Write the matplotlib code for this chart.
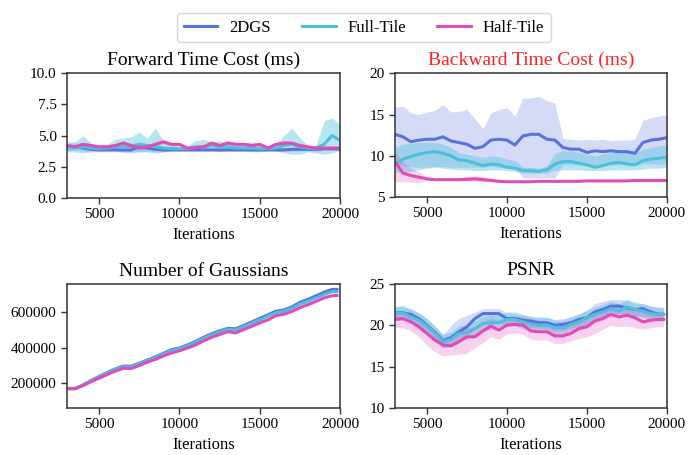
import numpy as np
import matplotlib
matplotlib.use("Agg")
import matplotlib.pyplot as plt

plt.rcParams["font.family"] = ["Liberation Serif", "DejaVu Serif"]

methods = ["2DGS", "Full-Tile", "Half-Tile"]
colors = ["#5872e2", "#4dbfd9", "#e04bb8"]
band_alpha = [0.25, 0.4, 0.25]

# time-cost panels, sampled every 500 iterations
iters_t = np.arange(3000, 20001, 500)

fwd_2dgs = [4.1, 4.1, 4.0, 3.9, 3.85, 3.85, 3.85, 3.85, 3.85, 4.1, 4.0, 3.9, 3.85, 3.85, 3.85, 3.85, 3.85, 3.85,
            3.85, 3.85, 3.85, 3.85, 3.85, 3.85, 3.85, 3.85, 3.85, 3.85, 3.9, 3.9, 3.9, 3.9, 3.95, 3.95, 3.95]
fwd_2dgs_lo = [3.8, 3.8, 3.75, 3.7, 3.7, 3.7, 3.7, 3.65, 3.6, 3.7, 3.7, 3.7, 3.7, 3.75, 3.75, 3.75, 3.75, 3.75,
               3.75, 3.75, 3.75, 3.75, 3.75, 3.75, 3.75, 3.75, 3.75, 3.75, 3.75, 3.75, 3.75, 3.75, 3.8, 3.8, 3.8]
fwd_2dgs_hi = [4.4, 4.4, 4.3, 4.2, 4.0, 4.0, 4.0, 4.2, 4.4, 4.5, 4.3, 4.1, 4.0, 4.0, 4.0, 4.0, 4.0, 4.0,
               4.0, 4.0, 4.0, 4.0, 4.0, 4.0, 4.0, 4.0, 4.0, 4.0, 4.05, 4.05, 4.05, 4.05, 4.1, 4.1, 4.1]

fwd_full = [4.0, 4.0, 4.1, 4.0, 3.95, 4.0, 4.1, 4.1, 4.1, 4.3, 4.2, 4.1, 4.0, 3.95, 3.95, 3.95, 4.1, 4.1,
            4.2, 4.1, 4.1, 4.0, 4.0, 4.0, 3.95, 3.95, 4.0, 4.2, 4.3, 4.1, 4.0, 4.0, 4.3, 5.0, 4.6]
fwd_full_lo = [3.7, 3.7, 3.6, 3.7, 3.8, 3.8, 3.8, 3.7, 3.7, 3.7, 3.7, 3.6, 3.7, 3.8, 3.8, 3.8, 3.8, 3.8,
               3.8, 3.7, 3.8, 3.8, 3.8, 3.7, 3.7, 3.8, 3.8, 3.6, 3.5, 3.5, 3.7, 3.6, 3.5, 3.6, 3.8]
fwd_full_hi = [4.5, 4.5, 5.0, 4.4, 4.2, 4.3, 4.7, 4.8, 4.9, 5.3, 4.8, 5.6, 4.6, 4.3, 4.1, 4.2, 4.6, 4.7,
               4.5, 4.6, 4.4, 4.3, 4.4, 4.5, 4.2, 4.2, 4.3, 5.0, 5.6, 4.8, 4.2, 4.2, 6.2, 6.4, 5.9]

fwd_half = [4.2, 4.1, 4.3, 4.2, 4.1, 4.1, 4.2, 4.4, 4.2, 4.0, 4.1, 4.3, 4.5, 4.3, 4.3, 4.0, 4.0, 4.1,
            4.4, 4.2, 4.4, 4.3, 4.3, 4.2, 4.3, 4.0, 4.3, 4.4, 4.4, 4.2, 4.1, 4.0, 4.0, 4.0, 4.0]
fwd_half_lo = [v - 0.15 for v in fwd_half]
fwd_half_hi = [v + 0.15 for v in fwd_half]

bwd_2dgs = [12.6, 12.3, 11.7, 11.9, 12.0, 12.0, 12.3, 11.8, 11.6, 11.4, 10.9, 11.1, 11.9, 12.0, 11.9, 11.3, 12.4, 12.6,
            12.6, 12.0, 11.9, 11.0, 10.8, 10.8, 10.4, 10.6, 10.5, 10.6, 10.5, 10.5, 10.3, 11.6, 11.9, 12.0, 12.2]
bwd_2dgs_lo = [9.0, 8.8, 8.7, 8.6, 8.6, 8.7, 8.7, 8.6, 8.6, 8.6, 8.6, 8.6, 8.7, 8.6, 8.6, 8.5, 7.3, 7.3,
               7.3, 7.3, 7.3, 8.9, 8.9, 8.9, 8.8, 8.8, 8.9, 8.9, 8.9, 8.9, 8.9, 9.0, 9.0, 9.0, 9.0]
bwd_2dgs_hi = [15.9, 16.0, 15.2, 15.0, 15.3, 15.5, 16.2, 15.3, 15.4, 15.6, 14.5, 13.3, 15.2, 15.6, 15.8, 14.8, 17.0, 17.0,
               17.2, 16.7, 16.4, 12.1, 12.0, 11.9, 12.0, 11.9, 12.0, 11.8, 11.9, 11.9, 12.0, 14.3, 14.6, 14.8, 15.0]

bwd_full = [8.9, 9.6, 9.9, 10.2, 10.4, 10.5, 10.3, 10.0, 9.5, 9.4, 9.1, 8.8, 9.0, 8.9, 8.6, 8.5, 8.2, 8.2,
            8.1, 8.3, 9.0, 9.3, 9.3, 9.1, 8.9, 8.6, 8.8, 9.1, 9.2, 9.0, 8.9, 9.4, 9.6, 9.7, 9.8]
bwd_full_lo = [8.0, 8.0, 8.1, 8.3, 8.5, 8.6, 8.5, 8.4, 8.3, 8.3, 8.2, 8.2, 8.3, 8.3, 8.2, 8.1, 7.9, 7.9,
               7.9, 7.9, 8.2, 8.3, 8.3, 8.3, 8.2, 8.2, 8.2, 8.3, 8.3, 8.3, 8.3, 8.4, 8.5, 8.5, 8.6]
bwd_full_hi = [11.0, 11.4, 11.5, 11.6, 11.6, 11.6, 11.4, 11.0, 10.4, 10.2, 10.0, 9.8, 10.0, 9.9, 9.6, 9.4, 8.6, 8.6,
               8.5, 8.8, 10.3, 10.6, 10.6, 10.4, 10.2, 10.0, 10.2, 10.4, 10.5, 10.4, 10.3, 10.8, 11.0, 11.2, 11.3]

bwd_half = [9.3, 7.9, 7.6, 7.4, 7.2, 7.1, 7.1, 7.1, 7.1, 7.15, 7.2, 7.1, 7.0, 6.9, 6.85, 6.85, 6.85, 6.85,
            6.9, 6.9, 6.9, 6.9, 6.9, 6.9, 6.95, 6.95, 6.95, 6.95, 6.95, 6.95, 7.0, 7.0, 7.0, 7.0, 7.0]
bwd_half_lo = [6.8, 6.9, 6.8, 6.7, 7.0, 7.0, 7.0, 7.0, 7.0, 6.9, 6.9, 6.9, 6.9, 6.8, 6.8, 6.8, 6.8, 6.8,
               6.85, 6.85, 6.85, 6.85, 6.85, 6.85, 6.9, 6.9, 6.9, 6.9, 6.9, 6.9, 6.95, 6.95, 6.95, 6.95, 6.95]
bwd_half_hi = [10.5, 9.3, 8.5, 8.1, 7.4, 7.2, 7.2, 7.2, 7.2, 7.5, 7.6, 7.5, 7.4, 7.0, 6.9, 6.9, 6.9, 6.9,
               6.95, 6.95, 6.95, 6.95, 6.95, 6.95, 7.0, 7.0, 7.0, 7.0, 7.0, 7.0, 7.05, 7.05, 7.05, 7.05, 7.05]

# gaussian count and psnr panels
iters_e = [3000, 3500, 4000, 4500, 5000, 5500, 6000, 6500, 7000, 7500, 8000, 8500, 9000, 9500, 10000, 10500, 11000,
           11500, 12000, 12500, 13000, 13500, 14000, 14500, 15000, 15500, 16000, 16500, 17000, 17500, 18000, 18500,
           19000, 19500, 19800]

gs_2dgs = [170000, 170000, 190000, 215000, 238000, 260000, 280000, 296000, 296000, 312000, 330000, 348000, 368000,
           388000, 398000, 415000, 435000, 458000, 478000, 495000, 508000, 506000, 525000, 545000, 565000, 585000,
           605000, 612000, 630000, 655000, 672000, 692000, 712000, 728000, 728000]
gs_full = [170000, 170000, 189000, 213000, 235000, 257000, 277000, 292000, 292000, 308000, 326000, 344000, 363000,
           383000, 393000, 410000, 430000, 452000, 472000, 489000, 502000, 500000, 518000, 538000, 557000, 577000,
           597000, 604000, 621000, 645000, 661000, 680000, 699000, 715000, 715000]
gs_half = [168000, 168000, 186000, 208000, 228000, 248000, 268000, 283000, 283000, 299000, 318000, 334000, 353000,
           370000, 382000, 398000, 415000, 438000, 458000, 474000, 490000, 483000, 502000, 520000, 540000, 556000,
           580000, 588000, 604000, 625000, 642000, 660000, 680000, 692000, 694000]

psnr_2dgs = [21.5, 21.5, 21.3, 20.8, 20.0, 19.1, 18.1, 18.5, 19.2, 19.8, 20.8, 21.4, 21.4, 21.4, 20.8, 20.8, 20.6,
             20.5, 20.3, 20.3, 20.0, 20.1, 20.3, 20.7, 20.9, 21.6, 21.9, 22.3, 22.3, 22.1, 21.9, 22.0, 21.6, 21.3, 21.3]
psnr_2dgs_lo = [20.6, 20.6, 20.3, 19.7, 18.9, 18.1, 17.6, 17.5, 17.9, 18.6, 19.6, 20.3, 20.4, 20.3, 20.0, 20.1, 19.9,
                19.7, 19.6, 19.6, 19.3, 19.4, 19.6, 19.9, 20.0, 20.7, 21.0, 21.4, 21.4, 21.3, 21.1, 21.2, 20.9, 20.6, 20.6]
psnr_2dgs_hi = [22.2, 22.2, 22.0, 21.5, 20.8, 19.9, 18.8, 20.0, 20.8, 21.2, 21.6, 22.0, 22.0, 22.0, 21.5, 21.4, 21.2,
                21.1, 21.0, 21.0, 20.7, 20.8, 21.0, 21.4, 21.8, 22.6, 22.9, 23.1, 23.1, 23.0, 22.6, 22.6, 22.3, 22.1, 22.1]

psnr_full = [21.4, 21.5, 21.0, 20.6, 19.9, 19.0, 18.0, 18.3, 19.0, 19.1, 19.6, 20.2, 20.3, 20.3, 20.7, 20.7, 20.4,
             20.1, 20.0, 20.0, 19.7, 19.7, 20.1, 20.4, 20.9, 21.3, 21.6, 22.0, 21.7, 22.2, 21.9, 21.7, 21.4, 21.3, 21.3]
psnr_full_lo = [v - 0.8 for v in psnr_full]
psnr_full_hi = [v + 0.9 for v in psnr_full]

psnr_half = [20.7, 20.8, 20.4, 19.8, 19.0, 18.2, 17.6, 17.5, 18.0, 18.6, 18.6, 19.3, 19.9, 19.4, 20.0, 20.1, 20.0,
             19.3, 19.2, 19.2, 18.7, 18.7, 19.0, 19.6, 19.8, 20.5, 20.8, 21.3, 21.0, 21.2, 20.9, 20.4, 20.6, 20.7, 20.7]
psnr_half_lo = [19.7, 19.7, 19.3, 18.6, 17.6, 16.8, 16.3, 16.4, 16.5, 16.6, 17.3, 17.9, 18.6, 18.3, 18.9, 19.0, 18.9,
                18.3, 18.2, 18.2, 17.8, 17.8, 18.1, 18.4, 18.6, 19.0, 19.5, 20.0, 19.8, 19.9, 19.7, 19.5, 19.7, 19.8, 19.8]
psnr_half_hi = [21.5, 21.6, 21.3, 20.8, 20.1, 19.4, 18.6, 18.6, 19.2, 19.7, 19.7, 20.3, 20.9, 20.5, 21.0, 21.1, 21.0,
                20.3, 20.2, 20.2, 19.8, 19.8, 20.1, 20.7, 21.0, 21.6, 21.9, 22.3, 22.0, 22.2, 21.9, 21.5, 21.6, 21.7, 21.7]


def draw_panel(ax, x, lines, bands, title, title_color="black"):
    for i, y in enumerate(lines):
        if bands is not None:
            lo, hi = bands[i]
            ax.fill_between(x, lo, hi, color=colors[i], alpha=band_alpha[i], linewidth=0)
        ax.plot(x, y, color=colors[i], linewidth=2.2, label=methods[i])
    ax.set_title(title, fontsize=14, color=title_color, pad=6)
    ax.set_xlabel("Iterations", fontsize=12)
    ax.set_xlim(3000, 20000)
    ax.set_xticks([5000, 10000, 15000, 20000])
    ax.tick_params(labelsize=11, length=4, width=1, color="#333333")
    for sp in ax.spines.values():
        sp.set_color("#333333")
        sp.set_linewidth(1.1)


fig = plt.figure(figsize=(6.88, 4.55), dpi=100)
ax1 = fig.add_axes([0.0974, 0.565, 0.397, 0.274])
ax2 = fig.add_axes([0.574, 0.567, 0.3953, 0.272])
ax3 = fig.add_axes([0.0974, 0.1033, 0.397, 0.272])
ax4 = fig.add_axes([0.574, 0.1033, 0.3953, 0.273])

draw_panel(ax1, iters_t, [fwd_2dgs, fwd_full, fwd_half],
           [(fwd_2dgs_lo, fwd_2dgs_hi), (fwd_full_lo, fwd_full_hi), (fwd_half_lo, fwd_half_hi)],
           "Forward Time Cost (ms)")
ax1.set_ylim(0, 10)
ax1.set_yticks([0, 2.5, 5, 7.5, 10])
ax1.set_yticklabels(["0.0", "2.5", "5.0", "7.5", "10.0"])

draw_panel(ax2, iters_t, [bwd_2dgs, bwd_full, bwd_half],
           [(bwd_2dgs_lo, bwd_2dgs_hi), (bwd_full_lo, bwd_full_hi), (bwd_half_lo, bwd_half_hi)],
           "Backward Time Cost (ms)", title_color="#ff2020")
ax2.set_ylim(5, 20)
ax2.set_yticks([5, 10, 15, 20])

draw_panel(ax3, iters_e, [gs_2dgs, gs_full, gs_half], None, "Number of Gaussians")
ax3.set_ylim(60000, 757000)
ax3.set_yticks([200000, 400000, 600000])
ax3.ticklabel_format(axis="y", style="plain")

draw_panel(ax4, iters_e, [psnr_2dgs, psnr_full, psnr_half],
           [(psnr_2dgs_lo, psnr_2dgs_hi), (psnr_full_lo, psnr_full_hi), (psnr_half_lo, psnr_half_hi)],
           "PSNR")
ax4.set_ylim(10, 25)
ax4.set_yticks([10, 15, 20, 25])

handles, labels = ax1.get_legend_handles_labels()
fig.legend(handles, labels, loc="upper center", bbox_to_anchor=(0.529, 0.99), ncol=3,
           fontsize=12, frameon=True, edgecolor="#cccccc", fancybox=True, handlelength=2.0,
           handletextpad=0.7, columnspacing=1.9, borderpad=0.4)

fig.savefig("out.png", dpi=100)
